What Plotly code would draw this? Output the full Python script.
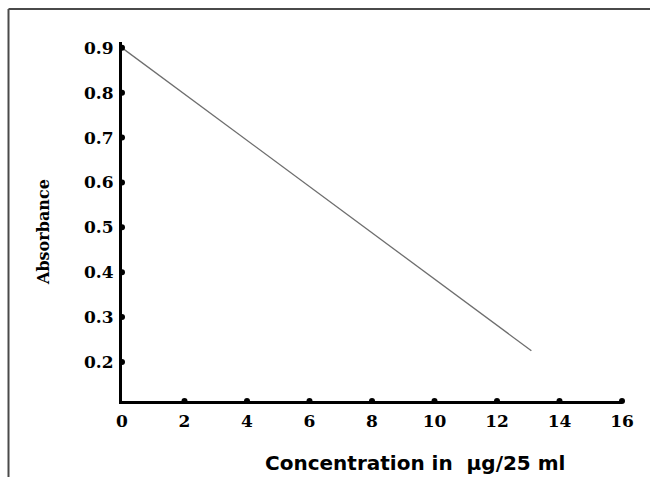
import plotly.graph_objects as go

# Data
concentration = [0, 13.1]
absorbance = [0.9, 0.225]

x_ticks = [0, 2, 4, 6, 8, 10, 12, 14, 16]
y_ticks = [0.2, 0.3, 0.4, 0.5, 0.6, 0.7, 0.8, 0.9]
x_tick_labels = [str(v) for v in x_ticks]
y_tick_labels = [f"{v:.1f}" for v in y_ticks]

X_RANGE = [0, 16]
Y_RANGE = [0.113, 0.913]

SERIF = "DejaVu Serif"
SANS = "DejaVu Sans"

fig = go.Figure()

fig.add_trace(go.Scatter(
    x=concentration, y=absorbance, mode="lines",
    line=dict(color="#6e6e6e", width=1.3),
    showlegend=False, hoverinfo="skip",
))

# tick dots on the axes
fig.add_trace(go.Scatter(
    x=[0] * len(y_ticks), y=y_ticks, mode="markers",
    marker=dict(color="black", size=6), cliponaxis=False,
    showlegend=False, hoverinfo="skip",
))
fig.add_trace(go.Scatter(
    x=x_ticks[1:], y=[Y_RANGE[0]] * (len(x_ticks) - 1), mode="markers",
    marker=dict(color="black", size=6), cliponaxis=False,
    showlegend=False, hoverinfo="skip",
))

fig.update_layout(
    width=650, height=477,
    margin=dict(l=122, r=28, t=42, b=76),
    paper_bgcolor="white", plot_bgcolor="white",
    hovermode=False,
    xaxis=dict(
        range=X_RANGE, tickvals=x_ticks, ticktext=x_tick_labels,
        showgrid=False, zeroline=False, showline=True,
        linecolor="black", linewidth=3, ticks="",
        ticklabelstandoff=3,
        tickfont=dict(family=SERIF, size=17, color="black", weight="bold"),
    ),
    yaxis=dict(
        range=Y_RANGE, tickvals=y_ticks, ticktext=y_tick_labels,
        showgrid=False, zeroline=False, showline=True,
        linecolor="black", linewidth=3, ticks="",
        ticklabelstandoff=2,
        tickfont=dict(family=SERIF, size=17, color="black", weight="bold"),
    ),
    annotations=[
        dict(text="<b>Concentration in  µg/25 ml</b>", xref="paper", yref="paper",
             x=(415 - 122) / 500, y=(401 - 463) / 359, showarrow=False,
             xanchor="center", yanchor="middle",
             font=dict(family=SANS, size=20, color="black")),
        dict(text="<b>Absorbance</b>", xref="paper", yref="paper",
             x=(43 - 122) / 500, y=(401 - 232) / 359, showarrow=False,
             xanchor="center", yanchor="middle", textangle=-90,
             font=dict(family=SERIF, size=16, color="black")),
    ],
    shapes=[
        dict(type="line", xref="paper", yref="paper",
             x0=(8.5 - 122) / 500, x1=(660 - 122) / 500,
             y0=(401 - 9) / 359, y1=(401 - 9) / 359,
             line=dict(color="#4a4a4a", width=2)),
        dict(type="line", xref="paper", yref="paper",
             x0=(8.5 - 122) / 500, x1=(8.5 - 122) / 500,
             y0=(401 - 9) / 359, y1=(401 - 490) / 359,
             line=dict(color="#4a4a4a", width=2)),
    ],
)

fig.write_html(
    "out.html",
    config={"displayModeBar": False, "staticPlot": True},
    post_script="document.body.style.margin='0px';document.body.style.overflow='hidden';",
)
